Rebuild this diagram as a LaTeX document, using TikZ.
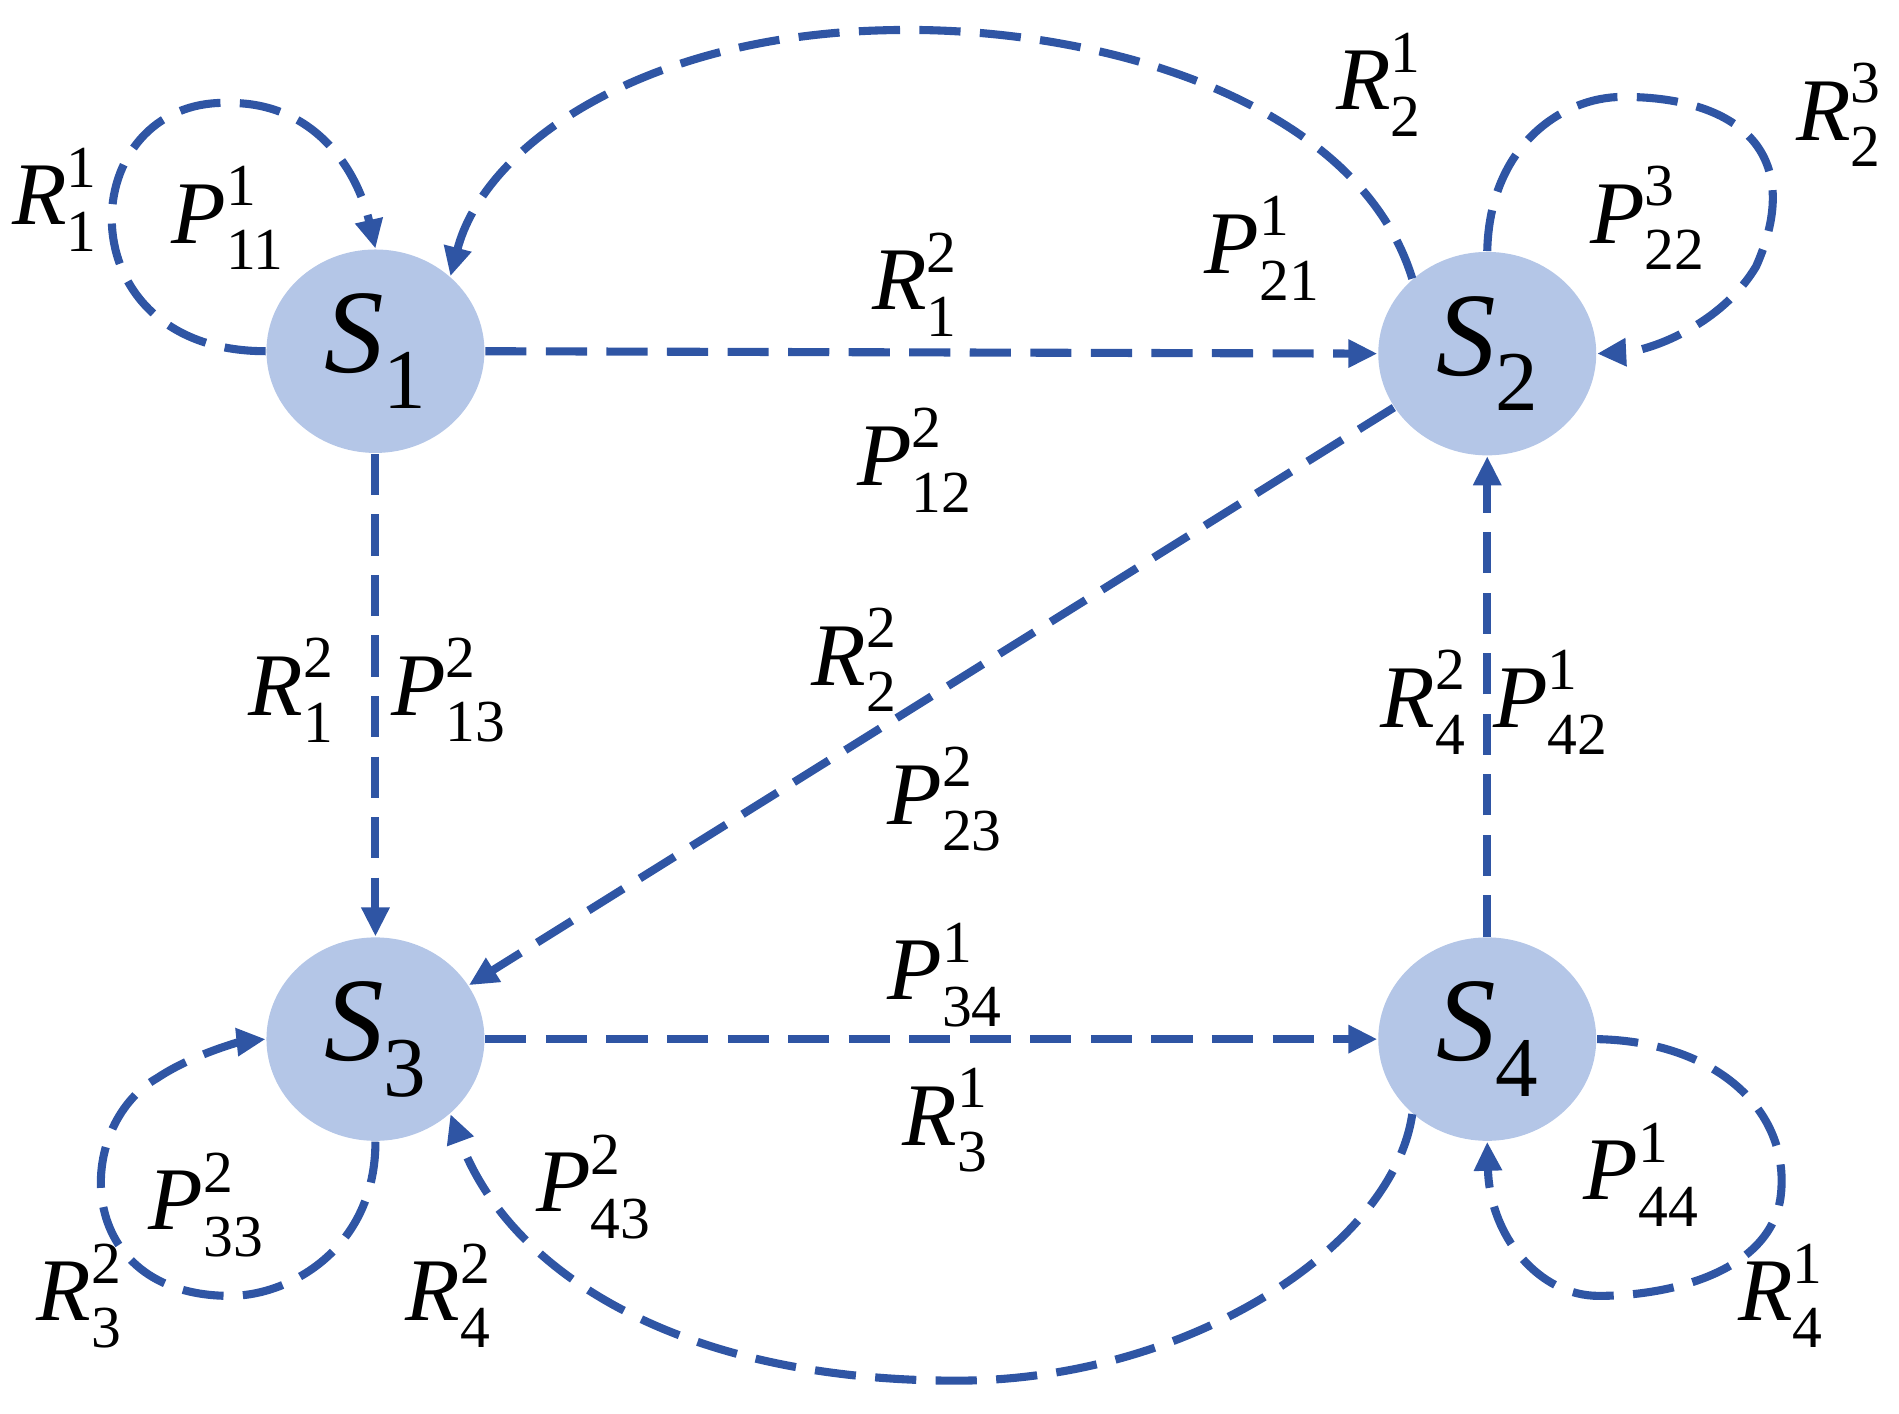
\documentclass[tikz,border=0pt]{standalone}
\usepackage{fontspec}
\setmainfont{Liberation Serif}
\usetikzlibrary{arrows.meta,shapes.geometric}
\definecolor{ln}{RGB}{47,85,164}
\definecolor{fl}{RGB}{180,198,231}
\newcommand{\lab}[3]{\textit{#1}\rlap{\raisebox{0.42em}{\fontsize{14}{14}\selectfont #2}}\raisebox{-0.3em}{\fontsize{14}{14}\selectfont #3}}
\newcommand{\st}[1]{\textit{S}\raisebox{-0.3em}{\fontsize{20}{20}\selectfont #1}}
\begin{document}
\begin{tikzpicture}[
  st/.style={ellipse,fill=fl,minimum width=1.8cm,minimum height=1.68cm,inner sep=0pt,font=\fontsize{28}{28}\selectfont},
  ed/.style={draw=ln,line width=1.9pt,dash pattern=on 0.34cm off 0.16cm,-{Triangle[length=0.24cm,width=0.22cm]}},
  lb/.style={font=\fontsize{21}{21}\selectfont}]
\useasboundingbox (0,0) rectangle (15.68,-11.67);
\node[st] (s1) at (3.10,-2.90) {\st{1}};
\node[st] (s2) at (12.28,-2.92) {\st{2}};
\node[st] (s3) at (3.10,-8.58) {\st{3}};
\node[st] (s4) at (12.28,-8.58) {\st{4}};
\draw[ed] (s1.west) .. controls (0.5,-2.9) and (0.6,-0.8) .. (1.9,-0.85) .. controls (2.6,-0.85) and (2.95,-1.4) .. (s1.north);
\draw[ed] (s2.135) .. controls (11.2,-0.8) and (9,-0.2) .. (7.3,-0.25) .. controls (5.3,-0.3) and (4.0,-1.2) .. (s1.45);
\draw[ed] (s1.east) -- (s2.west);
\draw[ed] (s2.north) .. controls (12.3,-1.2) and (12.9,-0.8) .. (13.4,-0.8) .. controls (14.4,-0.8) and (14.9,-1.3) .. (14.5,-2.2) .. controls (14.2,-2.7) and (13.6,-2.9) .. (s2.east);
\draw[ed] (s2.210) -- (s3.30);
\draw[ed] (s1.south) -- (s3.north);
\draw[ed] (s4.north) -- (s2.south);
\draw[ed] (s3.east) -- (s4.west);
\draw[ed] (s3.south) .. controls (3.1,-10.3) and (2.4,-10.7) .. (1.9,-10.7) .. controls (0.6,-10.7) and (0.6,-9.3) .. (1.3,-8.9) .. controls (1.6,-8.7) and (2,-8.6) .. (s3.west);
\draw[ed] (s4.225) .. controls (11.5,-10.3) and (9.8,-11.4) .. (7.9,-11.4) .. controls (5.6,-11.4) and (4.2,-10.5) .. (s3.315);
\draw[ed] (s4.east) .. controls (14.2,-8.6) and (14.8,-9.2) .. (14.7,-9.9) .. controls (14.6,-10.5) and (13.8,-10.7) .. (13.2,-10.7) .. controls (12.7,-10.7) and (12.3,-10.2) .. (s4.south);
\node[lb] (a1) at (0.45,-1.65) {\lab{R}{1}{1}};
\node[lb] (a2) at (1.88,-1.8) {\lab{P}{1}{11}};
\node[lb] (a3) at (11.38,-0.7) {\lab{R}{1}{2}};
\node[lb] (a4) at (10.42,-2.05) {\lab{P}{1}{21}};
\node[lb] (a5) at (15.18,-0.95) {\lab{R}{3}{2}};
\node[lb] (a6) at (13.6,-1.8) {\lab{P}{3}{22}};
\node[lb] (a7) at (7.55,-2.35) {\lab{R}{2}{1}};
\node[lb] (a8) at (7.55,-3.8) {\lab{P}{2}{12}};
\node[lb] (a9) at (2.4,-5.7) {\lab{R}{2}{1}};
\node[lb] (a10) at (3.7,-5.7) {\lab{P}{2}{13}};
\node[lb] (a11) at (7.05,-5.45) {\lab{R}{2}{2}};
\node[lb] (a12) at (7.8,-6.6) {\lab{P}{2}{23}};
\node[lb] (a13) at (11.75,-5.8) {\lab{R}{2}{4}};
\node[lb] (a14) at (12.8,-5.8) {\lab{P}{1}{42}};
\node[lb] (a15) at (7.8,-8.05) {\lab{P}{1}{34}};
\node[lb] (a16) at (7.8,-9.25) {\lab{R}{1}{3}};
\node[lb] (a17) at (1.7,-9.95) {\lab{P}{2}{33}};
\node[lb] (a18) at (0.65,-10.7) {\lab{R}{2}{3}};
\node[lb] (a19) at (3.7,-10.7) {\lab{R}{2}{4}};
\node[lb] (a20) at (4.9,-9.8) {\lab{P}{2}{43}};
\node[lb] (a21) at (13.55,-9.7) {\lab{P}{1}{44}};
\node[lb] (a22) at (14.7,-10.7) {\lab{R}{1}{4}};
\end{tikzpicture}
\end{document}
